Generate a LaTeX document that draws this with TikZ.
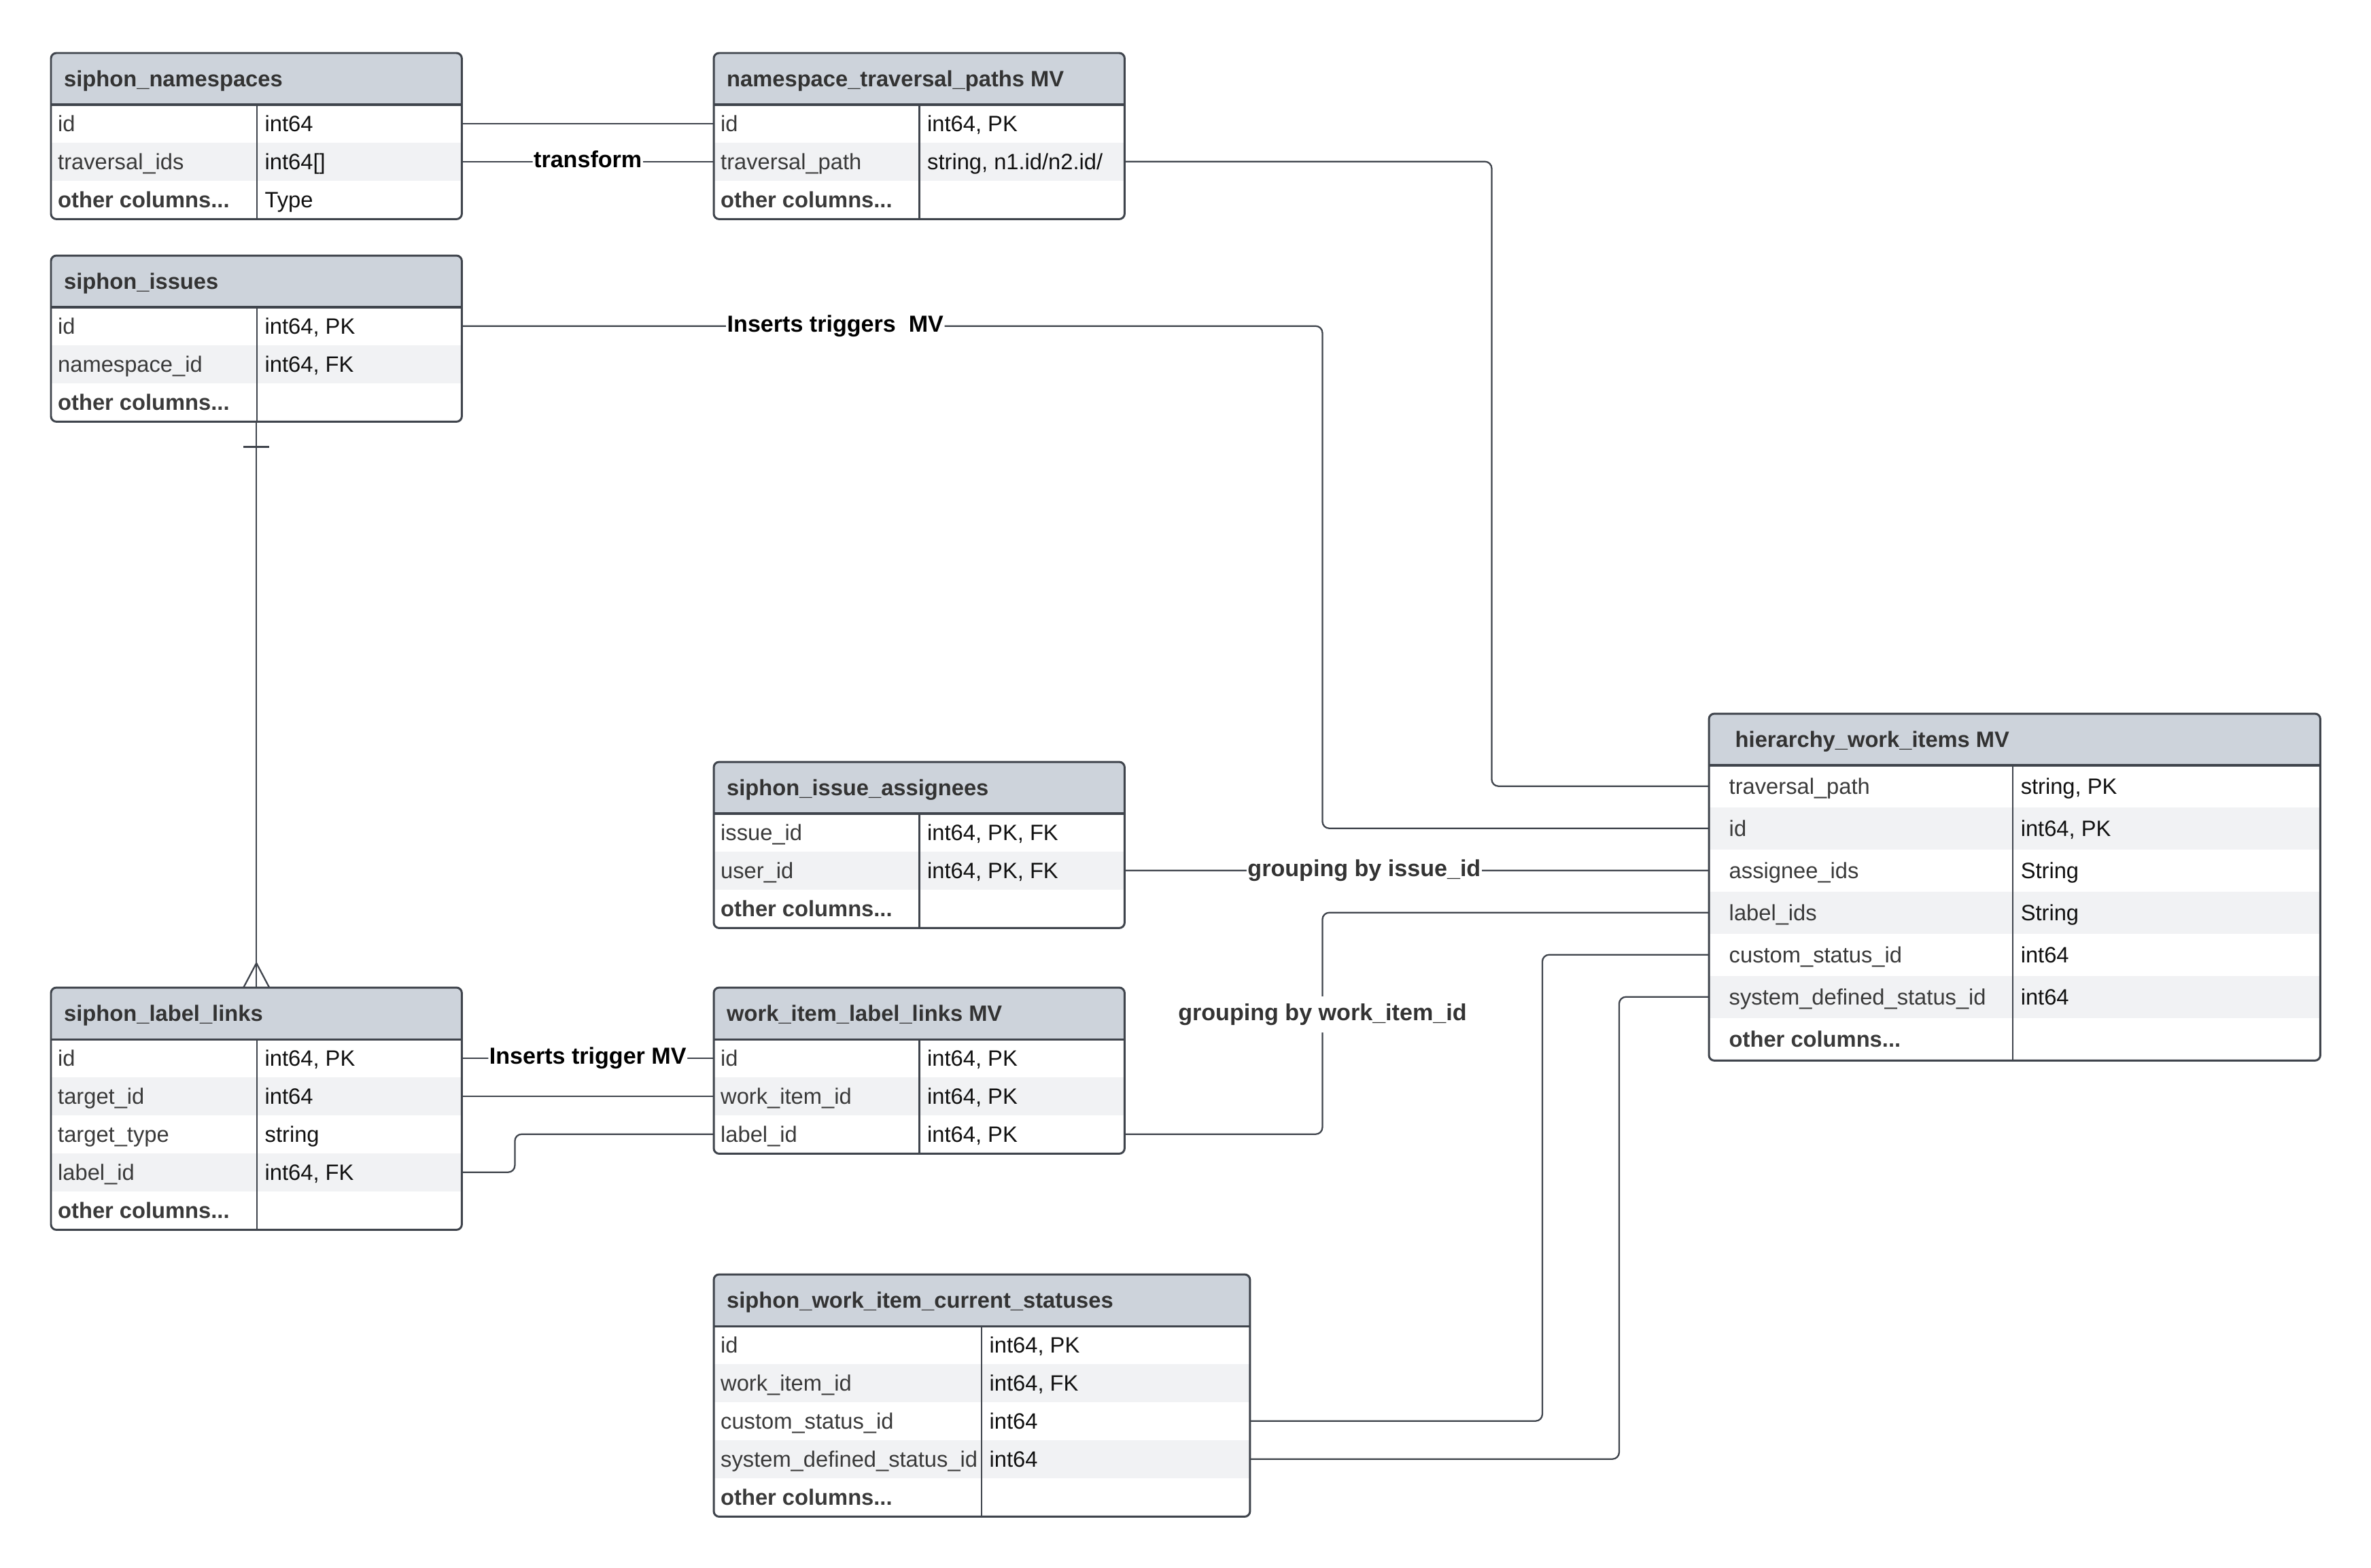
\documentclass[tikz,border=0pt]{standalone}
\usepackage{fontspec}
\setmainfont{Liberation Sans}
\usetikzlibrary{calc}

\definecolor{edgegray}{HTML}{3F444C}
\definecolor{headfill}{HTML}{CDD3DB}
\definecolor{rowalt}{HTML}{F1F2F4}
\definecolor{nametxt}{HTML}{3A3A3A}
\definecolor{typetxt}{HTML}{111111}
\definecolor{headtxt}{HTML}{333333}

\newcommand{\erdfont}{\fontsize{9.3}{11.2}\selectfont}
\newcommand{\linkfont}{\fontsize{9.7}{11.6}\selectfont}

\tikzset{
  tblhead/.style={rectangle, fill=headfill, rounded corners=0.08cm, minimum height=0.75cm, inner sep=0pt},
  tblrow/.style={rectangle, draw=none, inner sep=0pt},
  tbltitle/.style={font=\erdfont\bfseries, text=headtxt, inner sep=0pt},
  colname/.style={font=\erdfont, text=nametxt, inner sep=0pt},
  coltype/.style={font=\erdfont, text=typetxt, inner sep=0pt},
  tblline/.style={draw=edgegray, line width=0.85pt},
  link/.style={draw=edgegray, line width=0.65pt, rounded corners=0.1cm},
  thinlink/.style={draw=edgegray, line width=0.45pt},
  linklabel/.style={font=\linkfont\bfseries, text=black, fill=white, inner xsep=0.015cm, inner ysep=0.02cm,
                    text height=0.72em, text depth=0.22em}
}

% #1 name, #2 x, #3 y, #4 width, #5 divider, #6 row height, #7 pad, #8 title, #9 rows
\newcommand{\erdtable}[9]{%
  \node[tblhead, minimum width=#4cm, anchor=north west] (#1-h) at (#2,#3) {};
  \fill[headfill] (#1-h.west) rectangle (#1-h.south east);
  \node[tbltitle, anchor=base west] at ([xshift=#7cm+0.09cm, yshift=-0.117cm]#1-h.west) {#8};
  \foreach [count=\ri] \colnm/\coltp in {#9} {
    \ifodd\ri \def\rowfill{white}\else\def\rowfill{rowalt}\fi
    \node[tblrow, fill=\rowfill, minimum width=#4cm, minimum height=#6cm, anchor=north west]
      (#1-\ri) at (#2,#3-0.75-\ri*#6+#6) {};
    \node[colname, anchor=base west] at ([xshift=#7cm, yshift=-0.117cm]#1-\ri.west) {\colnm};
    \node[coltype, anchor=base west] at ([xshift=#5cm+0.11cm, yshift=-0.117cm]#1-\ri.west) {\coltp};
    \xdef\erdlast{\ri}
  }
  \draw[tblline, line width=0.6pt] ([xshift=#5cm]#1-h.south west) -- ([xshift=#5cm]#1-\erdlast.south west);
  \draw[tblline, line width=1.1pt] (#1-h.south west) -- (#1-h.south east);
  \draw[tblline, rounded corners=0.08cm] (#1-h.north west) rectangle (#1-\erdlast.south east);
}

\begin{document}
\begin{tikzpicture}
\useasboundingbox (0,0) rectangle (34.88,-23.06);
\fill[white] (0,0) rectangle (34.88,-23.06);

\erdtable{ns}{0.75}{-0.78}{6.03}{3.03}{0.56}{0.095}{siphon\_namespaces}
  {id/int64, traversal\_ids/{int64[]}, \textbf{other columns...}/Type}
\erdtable{ntp}{10.50}{-0.78}{6.03}{3.025}{0.56}{0.095}{namespace\_traversal\_paths MV}
  {id/{int64, PK}, traversal\_path/{string, n1.id/n2.id/}, \textbf{other columns...}/{}}
\erdtable{is}{0.75}{-3.76}{6.03}{3.03}{0.56}{0.095}{siphon\_issues}
  {id/{int64, PK}, namespace\_id/{int64, FK}, \textbf{other columns...}/{}}
\erdtable{sia}{10.50}{-11.21}{6.03}{3.025}{0.56}{0.095}{siphon\_issue\_assignees}
  {issue\_id/{int64, PK, FK}, user\_id/{int64, PK, FK}, \textbf{other columns...}/{}}
\erdtable{sll}{0.75}{-14.53}{6.03}{3.03}{0.56}{0.095}{siphon\_label\_links}
  {id/{int64, PK}, target\_id/int64, target\_type/string, label\_id/{int64, FK}, \textbf{other columns...}/{}}
\erdtable{wil}{10.50}{-14.53}{6.03}{3.025}{0.56}{0.095}{work\_item\_label\_links MV}
  {id/{int64, PK}, work\_item\_id/{int64, PK}, label\_id/{int64, PK}}
\erdtable{wis}{10.50}{-18.75}{7.875}{3.94}{0.56}{0.095}{siphon\_work\_item\_current\_statuses}
  {id/{int64, PK}, work\_item\_id/{int64, FK}, custom\_status\_id/int64, system\_defined\_status\_id/int64, \textbf{other columns...}/{}}
\erdtable{hwi}{25.14}{-10.50}{8.98}{4.47}{0.62}{0.29}{hierarchy\_work\_items MV}
  {traversal\_path/{string, PK}, id/{int64, PK}, assignee\_ids/String, label\_ids/String, custom\_status\_id/int64, system\_defined\_status\_id/int64, \textbf{other columns...}/{}}

\draw[thinlink] (ns-1.east) -- (ntp-1.west);
\draw[link] (ns-2.east) -- node[linklabel]{transform} (ntp-2.west);
\draw[link] (ntp-2.east) -- ++(5.40,0) |- (hwi-1.west);
\draw[link] (is-1.east) -- node[linklabel, pos=0.434]{Inserts triggers~ MV} ++(12.66,0) |- (hwi-2.west);

\draw[link] (is-3.south) -- (sll-h.north);
\draw[link] ([xshift=-0.19cm, yshift=-0.37cm]is-3.south) -- ([xshift=0.19cm, yshift=-0.37cm]is-3.south);
\draw[link, sharp corners] ([xshift=-0.19cm]sll-h.north) -- ([yshift=0.36cm]sll-h.north) -- ([xshift=0.19cm]sll-h.north);

\draw[link] (sia-2.east) -- node[linklabel, text=headtxt, pos=0.41]{grouping by issue\_id} (hwi-3.west);
\draw[link] (wil-3.east) -- ++(2.91,0) |- node[linklabel, text=headtxt, pos=0.27, inner ysep=0.1cm]{grouping by work\_item\_id} (hwi-4.west);

\draw[link] (sll-1.east) -- node[linklabel]{Inserts trigger MV} (wil-1.west);
\draw[thinlink] (sll-2.east) -- (wil-2.west);
\draw[link] (sll-4.east) -- ++(0.78,0) |- (wil-3.west);
\draw[link] (wis-3.east) -- ++(4.30,0) |- (hwi-5.west);
\draw[link] (wis-4.east) -- ++(5.43,0) |- (hwi-6.west);
\end{tikzpicture}
\end{document}
